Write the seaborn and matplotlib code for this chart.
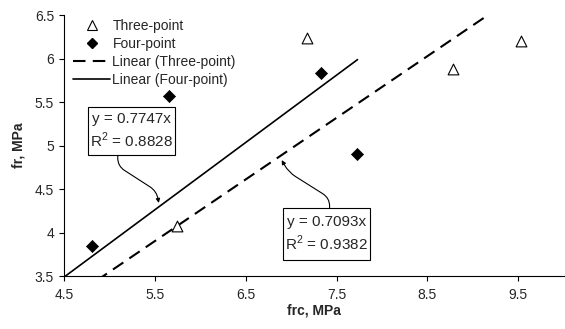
import numpy as np
import pandas as pd
import matplotlib
matplotlib.use("Agg")
import matplotlib.pyplot as plt
from matplotlib.ticker import FormatStrFormatter
from matplotlib.lines import Line2D
from matplotlib.patches import Rectangle
import seaborn as sns

# Data
three_frc = [5.75, 7.18, 8.78, 9.53]
three_fr = [4.08, 6.24, 5.88, 6.20]
four_frc = [4.81, 5.66, 7.33, 7.73]
four_fr = [3.85, 5.57, 5.84, 4.90]
slope_three = 0.7093
slope_four = 0.7747
r2_three = 0.9382
r2_four = 0.8828
x_ticks = [4.5, 5.5, 6.5, 7.5, 8.5, 9.5]
y_ticks = [3.5, 4, 4.5, 5, 5.5, 6, 6.5]

sns.set_style("ticks")
plt.rcParams['font.family'] = ['Liberation Sans', 'DejaVu Sans']
plt.rcParams['mathtext.fontset'] = 'custom'
plt.rcParams['mathtext.rm'] = 'Liberation Sans'

fig = plt.figure(figsize=(5.65, 3.29), dpi=100)
ax = fig.add_axes([0.113, 0.161, 0.885, 0.793])

df3 = pd.DataFrame({"frc": three_frc, "fr": three_fr})
df4 = pd.DataFrame({"frc": four_frc, "fr": four_fr})

DASH = (0, (6, 3.5))

# trendlines (through origin), over x from axis start to max data x
x3 = np.array([4.5, max(three_frc)])
x4 = np.array([4.5, max(four_frc)])
lt3 = pd.DataFrame({"frc": x3, "fr": slope_three * x3})
lt4 = pd.DataFrame({"frc": x4, "fr": slope_four * x4})

sns.lineplot(data=lt3, x="frc", y="fr", ax=ax, color="black", lw=1.5,
             linestyle=DASH)
sns.lineplot(data=lt4, x="frc", y="fr", ax=ax, color="black", lw=1.2)

sns.scatterplot(data=df3, x="frc", y="fr", ax=ax, marker="^", s=60,
                facecolor="white", edgecolor="black", linewidth=0.8, zorder=5)
sns.scatterplot(data=df4, x="frc", y="fr", ax=ax, marker="D", s=38,
                color="black", edgecolor="black", linewidth=0.5, zorder=5)

ax.set_xlim(4.5, 10.0)
ax.set_ylim(3.5, 6.5)
ax.set_xticks(x_ticks)
ax.set_yticks(y_ticks)
ax.xaxis.set_major_formatter(FormatStrFormatter('%g'))
ax.yaxis.set_major_formatter(FormatStrFormatter('%g'))
ax.tick_params(axis='both', labelsize=10, length=3.5, width=0.8, color='black', direction='out')
ax.tick_params(axis='x', pad=5)
for s in ['top', 'right']:
    ax.spines[s].set_visible(False)
for s in ['left', 'bottom']:
    ax.spines[s].set_color('black')
    ax.spines[s].set_linewidth(0.8)

ax.set_xlabel("frc, MPa", fontsize=10, fontweight='bold', labelpad=1)
ax.set_ylabel("fr, MPa", fontsize=10, fontweight='bold', labelpad=7)

handles = [
    Line2D([], [], marker='^', ls='none', markerfacecolor='white', markeredgecolor='black', markersize=7, markeredgewidth=0.8),
    Line2D([], [], marker='D', ls='none', color='black', markersize=5.5),
    Line2D([], [], color='black', lw=1.5, linestyle=DASH),
    Line2D([], [], color='black', lw=1.2),
]
labels = ["Three-point", "Four-point", "Linear (Three-point)", "Linear (Four-point)"]
ax.legend(handles, labels, loc='upper left', bbox_to_anchor=(0.007, 1.008), frameon=False,
          fontsize=10, handlelength=2.7, handletextpad=0.15, labelspacing=0.3, borderaxespad=0)

# text boxes
for (x0, x1, y0, y1), txt in [((4.764, 5.72, 4.891, 5.443), f"y = {slope_four}x\nR$^{{\\mathrm{{2}}}}$ = {r2_four}"),
                              ((6.907, 7.863, 3.684, 4.282), f"y = {slope_three}x\nR$^{{\\mathrm{{2}}}}$ = {r2_three}")]:
    ax.add_patch(Rectangle((x0, y0), x1 - x0, y1 - y0, fc='white', ec='black', lw=0.8, zorder=6))
    ax.text((x0 + x1) / 2, (y0 + y1) / 2, txt, fontsize=11, ha='center', va='center',
            linespacing=1.25, zorder=7)

# curved leader arrows
ax.annotate("", xy=(5.544, 4.34), xytext=(5.093, 4.891),
            arrowprops=dict(arrowstyle='-|>', color='black', lw=0.8, mutation_scale=6,
                            shrinkA=0, shrinkB=0,
                            connectionstyle='arc,angleA=-90,angleB=100,armA=11,armB=12,rad=8'))
ax.annotate("", xy=(6.896, 4.833), xytext=(7.423, 4.282),
            arrowprops=dict(arrowstyle='-|>', color='black', lw=0.8, mutation_scale=6,
                            shrinkA=0, shrinkB=0,
                            connectionstyle='arc,angleA=90,angleB=-60,armA=10,armB=14,rad=8'))

fig.savefig("out.png", dpi=100)
